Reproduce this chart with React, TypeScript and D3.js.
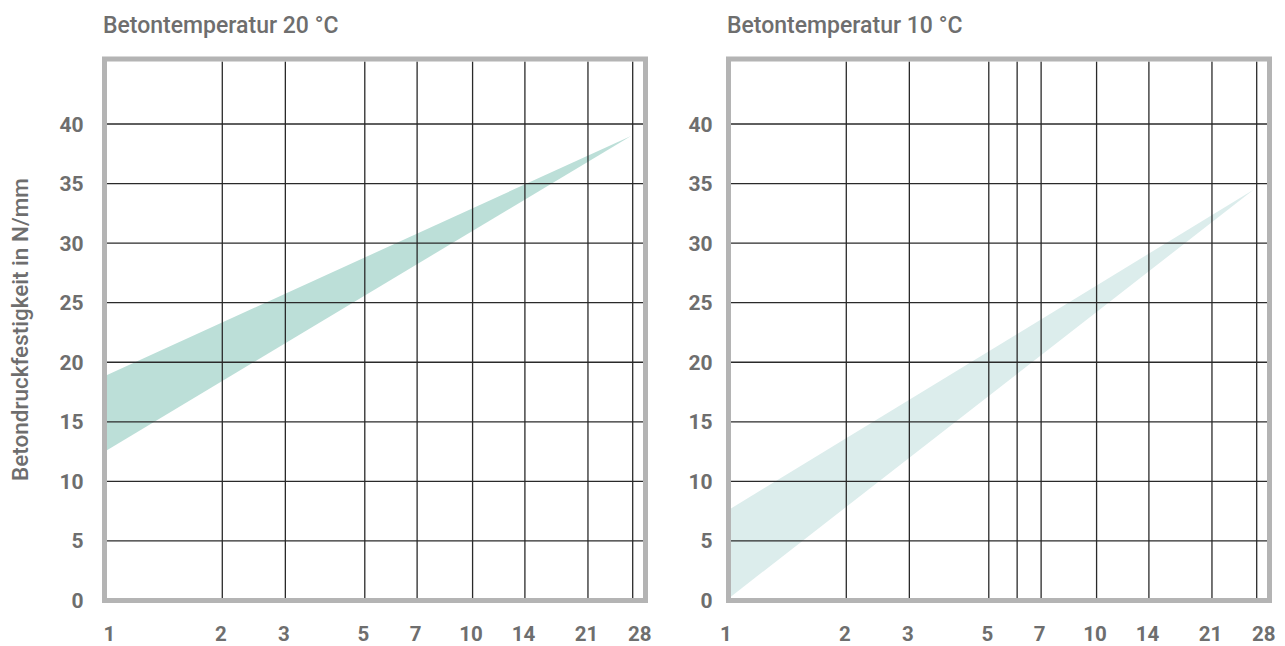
import React from "react";
import * as d3 from "d3";

// ---------- data ----------
const panelTitles = ["Betontemperatur 20 °C", "Betontemperatur 10 °C"];
const yAxisTitle = "Betondruckfestigkeit in N/mm";
const xTickValues = [1, 2, 3, 5, 7, 10, 14, 21, 28];
const xGridLeft = [2, 3, 5, 7, 10, 14, 21, 28];
const xGridRight = [2, 3, 5, 6, 7, 10, 14, 21, 28];
const yTickValues = [0, 5, 10, 15, 20, 25, 30, 35, 40];
const yGridValues = [5, 10, 15, 20, 25, 30, 35, 40];

// band for 20 °C (age in days, strength lower/upper)
const band20Days = [0.95, 27.7];
const band20Upper = [18.9, 39.0];
const band20Lower = [12.6, 39.0];
// band for 10 °C
const band10Days = [0.95, 27.5];
const band10Upper = [7.7, 34.5];
const band10Lower = [0.3, 34.5];

// ---------- layout ----------
const W = 1285;
const H = 646;
const frameTop = 59;
const frameBottom = 600.5;
const frameSize = 541;
const panelLefts = [104.5, 728.5];
const yLabelGaps = [21, 16];
const firstLabelOffsets = [5, -2.5];
const bandColors = ["#bcdfd8", "#dcedec"];
const textColor = "#6e6e6e";
const frameColor = "#b4b4b4";
const gridColor = "#2a2a2a";
const font = "Roboto, 'Noto Sans', sans-serif";

type Panel = {
  title: string;
  grid: number[];
  days: number[];
  upper: number[];
  lower: number[];
};

const panels: Panel[] = [
  { title: panelTitles[0], grid: xGridLeft, days: band20Days, upper: band20Upper, lower: band20Lower },
  { title: panelTitles[1], grid: xGridRight, days: band10Days, upper: band10Upper, lower: band10Lower },
];

const y = d3.scaleLinear().domain([0, 40]).range([frameBottom, 124]);

function PanelView({ p, i }: { p: Panel; i: number }) {
  const left = panelLefts[i];
  const right = left + frameSize;
  const x = d3.scaleLog().domain([1, 28]).range([left + 10, left + 528.2]);
  const innerL = left + 2.5;
  const innerR = right - 2.5;
  const innerT = frameTop + 2.5;
  const innerB = frameBottom - 2.5;

  const pts = p.days.map((d, k) => ({ d, lo: p.lower[k], hi: p.upper[k] }));
  const area = d3
    .area<{ d: number; lo: number; hi: number }>()
    .x((v) => x(v.d))
    .y0((v) => y(v.lo))
    .y1((v) => y(v.hi));

  return (
    <g>
      <text
        x={left - 1.5}
        y={32.5}
        fill={textColor}
        fontFamily={font}
        fontWeight={500}
        fontSize={23}
      >
        {p.title}
      </text>
      <path d={area(pts) || ""} fill={bandColors[i]} />
      {yGridValues.map((v) => (
        <line
          key={"h" + v}
          x1={innerL}
          x2={innerR}
          y1={y(v)}
          y2={y(v)}
          stroke={gridColor}
          strokeWidth={1.3}
        />
      ))}
      {p.grid.map((v) => (
        <line
          key={"v" + v}
          x1={x(v)}
          x2={x(v)}
          y1={innerT}
          y2={innerB}
          stroke={gridColor}
          strokeWidth={1.3}
        />
      ))}
      <rect
        x={left}
        y={frameTop}
        width={frameSize}
        height={frameBottom - frameTop}
        fill="none"
        stroke={frameColor}
        strokeWidth={5}
      />
      {yTickValues.map((v) => (
        <text
          key={"yl" + v}
          x={left - yLabelGaps[i]}
          y={y(v)}
          dy="0.36em"
          textAnchor="end"
          fill={textColor}
          fontFamily={font}
          fontWeight={700}
          fontSize={21}
        >
          {v}
        </text>
      ))}
      {xTickValues.map((v, k) => {
        const last = k === xTickValues.length - 1;
        const first = k === 0;
        const tx = first ? left + firstLabelOffsets[i] : last ? right + 6 : x(v) - 1.5;
        return (
          <text
            key={"xl" + v}
            x={tx}
            y={641}
            textAnchor={last ? "end" : "middle"}
            fill={textColor}
            fontFamily={font}
            fontWeight={700}
            fontSize={20.5}
          >
            {v}
          </text>
        );
      })}
    </g>
  );
}

export default function App() {
  return (
    <svg
      width={W}
      height={H}
      viewBox={`0 0 ${W} ${H}`}
      style={{ position: "absolute", left: 0, top: 0, background: "#fff" }}
    >
      <rect x={0} y={0} width={W} height={H} fill="#fff" />
      {panels.map((p, i) => (
        <PanelView key={i} p={p} i={i} />
      ))}
      <text
        transform={`translate(27.5, 481) rotate(-90)`}
        fill={textColor}
        fontFamily={font}
        fontWeight={500}
        fontSize={22.5}
      >
        {yAxisTitle}
      </text>
    </svg>
  );
}
